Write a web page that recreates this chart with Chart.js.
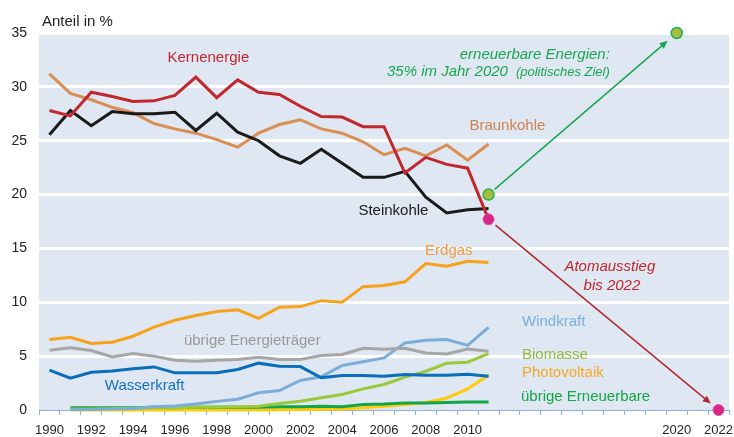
<!DOCTYPE html>
<html>
<head>
<meta charset="utf-8">
<script src="https://cdn.jsdelivr.net/npm/chart.js@4/dist/chart.umd.min.js"></script>
<style>
  html, body { margin: 0; padding: 0; background: #fff; }
  #wrap { width: 734px; height: 437px; }
</style>
</head>
<body>
<div id="wrap"><canvas id="strommix" width="734" height="437"></canvas></div>
<script>
// Jahre (Kategorien) und beschriftete Jahre
const jahre = ['1990','1991','1992','1993','1994','1995','1996','1997','1998','1999','2000',
  '2001','2002','2003','2004','2005','2006','2007','2008','2009','2010','2011','2012',
  '2013','2014','2015','2016','2017','2018','2019','2020','2021','2022'];
const beschrifteteJahre = ['1990','1992','1994','1996','1998','2000','2002','2004','2006','2008','2010','2020','2022'];
const yTicks = [0, 5, 10, 15, 20, 25, 30, 35];

// Anteil in % (1990 - 2011)
const kernenergie = [27.8, 27.3, 29.5, 29.1, 28.65, 28.7, 29.2, 30.9, 29.0, 30.65, 29.5, 29.3, 28.2, 27.25, 27.2, 26.3, 26.3, 22.0, 23.45, 22.8, 22.45, 17.7];
const braunkohle = [31.2, 29.4, 28.8, 28.1, 27.6, 26.6, 26.1, 25.7, 25.1, 24.4, 25.7, 26.5, 26.95, 26.1, 25.7, 24.9, 23.7, 24.3, 23.6, 24.6, 23.2, 24.7];
const steinkohle = [25.55, 27.8, 26.4, 27.7, 27.5, 27.5, 27.65, 25.95, 27.55, 25.8, 25.0, 23.6, 22.9, 24.2, 22.9, 21.6, 21.6, 22.15, 19.75, 18.3, 18.6, 18.7];
const erdgas = [6.55, 6.75, 6.17, 6.3, 6.85, 7.7, 8.33, 8.77, 9.14, 9.3, 8.5, 9.55, 9.6, 10.15, 10.0, 11.45, 11.55, 11.9, 13.6, 13.35, 13.8, 13.7];
const uebrigeEnergietraeger = [5.55, 5.77, 5.52, 4.93, 5.24, 5.0, 4.62, 4.53, 4.62, 4.68, 4.9, 4.68, 4.68, 5.05, 5.15, 5.73, 5.64, 5.73, 5.3, 5.2, 5.67, 5.45];
const wasserkraft = [3.7, 2.95, 3.5, 3.63, 3.82, 4.0, 3.45, 3.45, 3.45, 3.76, 4.35, 4.06, 4.03, 2.99, 3.2, 3.2, 3.14, 3.3, 3.22, 3.22, 3.32, 3.14];
const windkraft = [null, 0.05, 0.05, 0.1, 0.15, 0.3, 0.38, 0.55, 0.8, 1.0, 1.6, 1.8, 2.74, 3.08, 4.13, 4.47, 4.84, 6.23, 6.48, 6.54, 6.0, 7.68];
const biomasse = [null, 0.1, 0.1, 0.12, 0.15, 0.2, 0.22, 0.25, 0.28, 0.3, 0.35, 0.6, 0.82, 1.13, 1.44, 1.96, 2.37, 3.05, 3.6, 4.34, 4.44, 5.24];
const photovoltaik = [null, 0, 0, 0, 0, 0, 0, 0, 0, 0, 0, 0.02, 0.05, 0.07, 0.1, 0.2, 0.35, 0.5, 0.7, 1.1, 1.95, 3.25];
const uebrigeErneuerbare = [null, 0.2, 0.2, 0.2, 0.2, 0.25, 0.2, 0.25, 0.25, 0.25, 0.25, 0.3, 0.3, 0.35, 0.3, 0.5, 0.55, 0.65, 0.65, 0.7, 0.75, 0.75];

// Ziele / Ausstieg
const erneuerbarZiel = [{ x: '2011', y: 20 }, { x: '2020', y: 35 }];
const atomausstieg = [{ x: '2011', y: 17.7 }, { x: '2022', y: 0 }];

// Beschriftungen: [Text, Jahr, Wert, Farbe, Ausrichtung, Schrift]
const beschriftungen = [
  ['Kernenergie', 1997.6, 32.7, '#c1272d', 'center', '15px'],
  ['Braunkohle', 2011.9, 26.4, '#cc8550', 'center', '15px'],
  ['Steinkohle', 2006.45, 18.45, '#1a1a1a', 'center', '15px'],
  ['Erdgas', 2009.1, 14.8, '#f39a3c', 'center', '15px'],
  ['übrige Energieträger', 1999.7, 6.45, '#999999', 'center', '15px'],
  ['Wasserkraft', 1994.55, 2.2, '#1270be', 'center', '15px'],
  ['Windkraft', 2012.6, 8.15, '#7aaedb', 'left', '15px'],
  ['Biomasse', 2012.6, 5.15, '#8dbd3e', 'left', '15px'],
  ['Photovoltaik', 2012.6, 3.48, '#f7a823', 'left', '15px'],
  ['übrige Erneuerbare', 2012.55, 1.19, '#12a54a', 'left', '15px'],
  ['erneuerbare Energien:', 2016.8, 33.0, '#1aa551', 'right', 'italic 15px'],
  ['Atomausstieg', 2016.8, 13.25, '#c1272d', 'center', 'italic 15px'],
  ['bis 2022', 2016.9, 11.55, '#c1272d', 'center', 'italic 15px']
];

const schrift = '"Liberation Sans", Arial, sans-serif';

function linie(label, data, color) {
  return {
    label: label,
    data: data,
    borderColor: color,
    backgroundColor: color,
    borderWidth: 3,
    pointRadius: 0,
    tension: 0,
    spanGaps: false,
    clip: false
  };
}

function pfeil(ctx, a, b, s1, s2, color) {
  const dx = b.x - a.x, dy = b.y - a.y;
  const len = Math.sqrt(dx * dx + dy * dy);
  const ux = dx / len, uy = dy / len;
  const x1 = a.x + ux * s1, y1 = a.y + uy * s1;
  const x2 = b.x - ux * s2, y2 = b.y - uy * s2;
  ctx.save();
  ctx.strokeStyle = color;
  ctx.fillStyle = color;
  ctx.lineWidth = 1.5;
  ctx.beginPath();
  ctx.moveTo(x1, y1);
  ctx.lineTo(x2 - ux * 5, y2 - uy * 5);
  ctx.stroke();
  ctx.beginPath();
  ctx.moveTo(x2, y2);
  ctx.lineTo(x2 - ux * 8 - uy * 3.5, y2 - uy * 8 + ux * 3.5);
  ctx.lineTo(x2 - ux * 8 + uy * 3.5, y2 - uy * 8 - ux * 3.5);
  ctx.closePath();
  ctx.fill();
  ctx.restore();
}

const dekoration = {
  id: 'dekoration',
  beforeDraw(chart) {
    const { ctx, chartArea } = chart;
    ctx.save();
    ctx.fillStyle = '#dfe7f3';
    ctx.fillRect(chartArea.left, chartArea.top, chartArea.right - chartArea.left, chartArea.bottom - chartArea.top);
    ctx.restore();
  },
  beforeDatasetsDraw(chart) {
    const xs = chart.scales.x, ys = chart.scales.y;
    const p = (pt) => ({ x: xs.getPixelForValue(jahre.indexOf(pt.x)), y: ys.getPixelForValue(pt.y) });
    pfeil(chart.ctx, p(erneuerbarZiel[0]), p(erneuerbarZiel[1]), 8, 12, '#1aa551');
    pfeil(chart.ctx, p(atomausstieg[0]), p(atomausstieg[1]), 9, 10, '#b3282e');
  },
  afterDraw(chart) {
    const { ctx, chartArea } = chart;
    const xs = chart.scales.x, ys = chart.scales.y;
    ctx.save();
    ctx.textBaseline = 'middle';
    beschriftungen.forEach(([text, jahr, wert, farbe, align, font]) => {
      ctx.font = font + ' ' + schrift;
      ctx.fillStyle = farbe;
      ctx.textAlign = align;
      ctx.fillText(text, xs.getPixelForValue(jahr - 1990), ys.getPixelForValue(wert));
    });
    // zweite Zeile des Ziels mit kleinerem Klammerzusatz
    const xr = xs.getPixelForValue(2016.8 - 1990), yr = ys.getPixelForValue(31.35);
    ctx.textAlign = 'right';
    ctx.fillStyle = '#1aa551';
    ctx.font = 'italic 13px ' + schrift;
    ctx.fillText('(politisches Ziel)', xr, yr);
    const w = ctx.measureText('(politisches Ziel)').width;
    ctx.font = 'italic 15px ' + schrift;
    ctx.fillText('35% im Jahr 2020', xr - w - 8, yr);
    // Achsentitel
    ctx.textAlign = 'left';
    ctx.fillStyle = '#222';
    ctx.font = '15px ' + schrift;
    ctx.fillText('Anteil in %', chartArea.left + 3, 22);
    ctx.restore();
  }
};

const ctx = document.getElementById('strommix').getContext('2d');
new Chart(ctx, {
  type: 'line',
  data: {
    labels: jahre,
    datasets: [
      {
        label: 'Ziel',
        data: erneuerbarZiel,
        showLine: false,
        pointRadius: 5.5,
        pointBackgroundColor: '#a7bd3f',
        pointBorderColor: '#22b04b',
        pointBorderWidth: 1.5,
        clip: false
      },
      {
        label: 'Ausstieg',
        data: atomausstieg,
        showLine: false,
        pointRadius: 5.5,
        pointBackgroundColor: '#d6268a',
        pointBorderColor: '#e0559f',
        pointBorderWidth: 1,
        clip: false
      },
      linie('Kernenergie', kernenergie, '#c1272d'),
      linie('Steinkohle', steinkohle, '#1a1a1a'),
      linie('Braunkohle', braunkohle, '#d98e54'),
      linie('Erdgas', erdgas, '#f7a21b'),
      linie('Wasserkraft', wasserkraft, '#0a6fba'),
      linie('übrige Energieträger', uebrigeEnergietraeger, '#a6a6a6'),
      linie('Windkraft', windkraft, '#7badd9'),
      linie('Biomasse', biomasse, '#9cc83c'),
      linie('übrige Erneuerbare', uebrigeErneuerbare, '#12a54a'),
      linie('Photovoltaik', photovoltaik, '#ffcb05')
    ]
  },
  options: {
    responsive: false,
    animation: false,
    layout: { autoPadding: false, padding: { top: 33, right: 5, left: 0, bottom: 0 } },
    plugins: {
      legend: { display: false },
      tooltip: { enabled: false }
    },
    scales: {
      x: {
        type: 'category',
        offset: true,
        grid: {
          offset: true,
          drawOnChartArea: false,
          color: '#8eb1dc',
          tickLength: 5
        },
        border: { display: true, color: '#8eb1dc', width: 1 },
        ticks: {
          autoSkip: false,
          maxRotation: 0,
          padding: 8,
          color: '#222',
          font: { family: schrift, size: 13 },
          callback: function (value) {
            const l = this.getLabelForValue(value);
            return beschrifteteJahre.includes(l) ? l : '';
          }
        },
        afterFit: (scale) => {
          scale.height = 27;
          scale.paddingLeft = 0;
          scale.paddingRight = 0;
        }
      },
      y: {
        min: 0,
        max: 35,
        afterBuildTicks: (scale) => { scale.ticks = yTicks.map(v => ({ value: v })); },
        grid: {
          color: (c) => (c.tick && c.tick.value === 0 ? 'rgba(0,0,0,0)' : '#ffffff'),
          lineWidth: 3,
          drawTicks: false
        },
        border: { display: false },
        ticks: {
          padding: 12,
          color: '#222',
          font: { family: schrift, size: 14 }
        },
        afterFit: (scale) => {
          scale.width = 39;
          scale.paddingTop = 0;
          scale.paddingBottom = 0;
        }
      }
    }
  },
  plugins: [dekoration]
});
</script>
</body>
</html>
